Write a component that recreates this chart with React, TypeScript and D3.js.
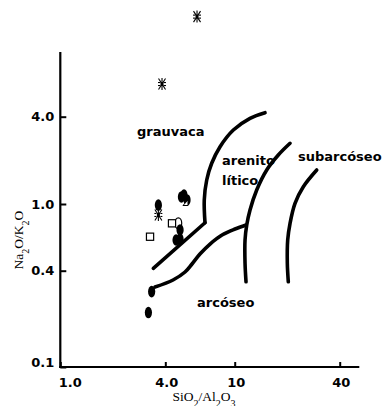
import React, { useEffect, useRef } from 'react';
import * as d3 from 'd3';

// axis ticks
const xTicks = [1, 4, 10, 40];
const xTickLabels = ['1.0', '4.0', '10', '40'];
const yTicks = [0.1, 0.4, 1, 4];
const yTickLabels = ['0.1', '0.4', '1.0', '4.0'];

// samples (SiO2/Al2O3, Na2O/K2O)
const filledX = [3.65, 4.95, 5.33, 5.12, 4.86, 4.61, 4.86, 3.34, 3.2];
const filledY = [0.986, 1.118, 1.066, 1.154, 0.7, 0.61, 0.618, 0.296, 0.219];
const openEllX = [4.75];
const openEllY = [0.767];
const squareX = [3.27, 4.37];
const squareY = [0.638, 0.767];
const triX = [5.22];
const triY = [1.016];
const starX = [3.65, 3.83, 6.08];
const starY = [0.86, 6.72, 19.6];

// field boundaries (Pettijohn et al.)
const grauLowX = [3.415, 6.755];
const grauLowY = [0.413, 0.773];
const grauUpX = [6.755, 6.69, 6.91, 7.38, 8.24, 9.82, 12.24, 14.92];
const grauUpY = [0.773, 1.066, 1.464, 1.909, 2.484, 3.238, 3.899, 4.263];
const arcX = [3.49, 4.43, 5.19, 5.69, 6.32, 7.22, 8.46, 10.04, 11.61];
const arcY = [0.316, 0.35, 0.3925, 0.4385, 0.503, 0.577, 0.653, 0.709, 0.749];
const litX = [11.61, 11.46, 11.46, 11.72, 12.24, 13.37, 15.26, 17.78, 20.76];
const litY = [0.341, 0.443, 0.61, 0.749, 0.921, 1.249, 1.716, 2.177, 2.622];
const subX = [20.29, 20.03, 20.13, 20.76, 22.17, 24.74, 29.53];
const subY = [0.341, 0.443, 0.61, 0.767, 1.011, 1.316, 1.716];

const fields = ['grauvaca', 'arenito', 'lítico', 'subarcóseo', 'arcóseo'];

const sans = 'DejaVu Sans, Verdana, sans-serif';

const App = () => {
  const xRef = useRef<SVGGElement>(null);
  const yRef = useRef<SVGGElement>(null);

  const x = d3.scaleLog().domain([1, 51.8]).range([60.3, 359.3]);
  const y = d3.scaleLog().domain([0.1, 0.4, 1, 4]).range([367, 270.7, 204, 116.7]);

  const line = d3
    .line<[number, number]>()
    .x((d) => x(d[0]))
    .y((d) => y(d[1]))
    .curve(d3.curveCatmullRom.alpha(0.5));
  const straight = d3
    .line<[number, number]>()
    .x((d) => x(d[0]))
    .y((d) => y(d[1]));
  const zip = (a: number[], b: number[]) => a.map((v, i) => [v, b[i]] as [number, number]);

  useEffect(() => {
    const xAxis = d3
      .axisBottom(x)
      .tickValues(xTicks)
      .tickSize(-5)
      .tickPadding(11)
      .tickFormat((d, i) => xTickLabels[i]);
    const yAxis = d3
      .axisLeft(y)
      .tickValues(yTicks)
      .tickSize(-6)
      .tickPadding(6)
      .tickFormat((d, i) => yTickLabels[i]);

    const gx = d3.select(xRef.current!);
    gx.call(xAxis);
    gx.select('.domain').remove();
    gx.selectAll('line').attr('stroke-width', 2);
    gx.selectAll('text')
      .attr('font-family', sans)
      .attr('font-size', 13)
      .attr('font-weight', 'bold')
      .attr('fill', '#000')
      .attr('text-anchor', (d, i) => (i === 0 ? 'start' : 'middle'))
      .attr('dx', (d, i) => (i === 0 ? -2 : 1));

    const gy = d3.select(yRef.current!);
    gy.call(yAxis);
    gy.select('.domain').remove();
    gy.selectAll('line').attr('stroke-width', 2);
    gy.selectAll('text')
      .attr('font-family', sans)
      .attr('font-size', 13)
      .attr('font-weight', 'bold')
      .attr('fill', '#000')
      .attr('dy', (d, i) => (i === 0 ? '-0.05em' : '0.32em'));
  }, []);

  const bold = { fontFamily: sans, fontSize: 13, fontWeight: 'bold' as const };
  const serif = { fontFamily: 'Liberation Serif, Times New Roman, serif', fontSize: 13.5 };

  return (
    <svg width={384} height={406} style={{ position: 'absolute', left: 0, top: 0, background: '#fff' }}>
      {/* axes */}
      <line x1={60.3} x2={60.3} y1={52} y2={368} stroke="#000" strokeWidth={2.2} />
      <line x1={59.2} x2={359.3} y1={367} y2={367} stroke="#000" strokeWidth={2.2} />
      <g ref={xRef} transform="translate(0,367)" />
      <g ref={yRef} transform="translate(60.3,0)" />

      {/* boundaries */}
      <g fill="none" stroke="#000" strokeWidth={3.6} strokeLinecap="round" strokeLinejoin="round">
        <path d={straight(zip(grauLowX, grauLowY))!} />
        <path d={line(zip(grauUpX, grauUpY))!} />
        <path d={line(zip(arcX, arcY))!} />
        <path d={line(zip(litX, litY))!} />
        <path d={line(zip(subX, subY))!} />
      </g>

      {/* field names */}
      <text x={137} y={136} {...bold}>{fields[0]}</text>
      <text x={222} y={165} {...bold}>{fields[1]}</text>
      <text x={222} y={185} {...bold}>{fields[2]}</text>
      <text x={298} y={161} {...bold}>{fields[3]}</text>
      <text x={197} y={307} {...bold}>{fields[4]}</text>

      {/* samples */}
      {openEllX.map((v, i) => (
        <ellipse key={'oe' + i} cx={x(v)} cy={y(openEllY[i])} rx={3.4} ry={5.5} fill="#fff" stroke="#000" strokeWidth={1.2} />
      ))}
      {filledX.map((v, i) => (
        <ellipse key={'f' + i} cx={x(v)} cy={y(filledY[i])} rx={3.6} ry={5.8} fill="#000" />
      ))}
      {triX.map((v, i) => (
        <path
          key={'t' + i}
          transform={`translate(${x(v)},${y(triY[i])})`}
          d="M-2.5,2.5 L2.5,2.5 L2.5,-3 Z"
          fill="#fff"
          stroke="#000"
          strokeWidth={1}
        />
      ))}
      {squareX.map((v, i) => (
        <rect key={'s' + i} x={x(v) - 3.6} y={y(squareY[i]) - 3.6} width={7.2} height={7.2} fill="#fff" stroke="#000" strokeWidth={1.2} />
      ))}
      {starX.map((v, i) => (
        <g key={'a' + i} transform={`translate(${x(v)},${y(starY[i])})`} stroke="#000" strokeWidth={1.1}>
          <line x1={0} x2={0} y1={-6} y2={6} />
          <line x1={-3.5} x2={3.5} y1={-5.5} y2={5.5} />
          <line x1={3.5} x2={-3.5} y1={-5.5} y2={5.5} />
          <line x1={-4} x2={-2} y1={-1.5} y2={-1.5} />
          <line x1={2} x2={4} y1={-1.5} y2={-1.5} />
          <line x1={-4} x2={-2} y1={1.5} y2={1.5} />
          <line x1={2} x2={4} y1={1.5} y2={1.5} />
          <rect x={-1.5} y={-2} width={3} height={4} fill="#000" stroke="none" />
        </g>
      ))}

      {/* axis titles */}
      <text x={204} y={401} textAnchor="middle" {...serif}>
        SiO<tspan baselineShift="sub" fontSize={10}>2</tspan>/Al<tspan baselineShift="sub" fontSize={10}>2</tspan>O
        <tspan baselineShift="sub" fontSize={10}>3</tspan>
      </text>
      <text transform="translate(23,240) rotate(-90)" textAnchor="middle" {...serif}>
        Na<tspan baselineShift="sub" fontSize={10}>2</tspan>O/K<tspan baselineShift="sub" fontSize={10}>2</tspan>O
      </text>
    </svg>
  );
};

export default App;
